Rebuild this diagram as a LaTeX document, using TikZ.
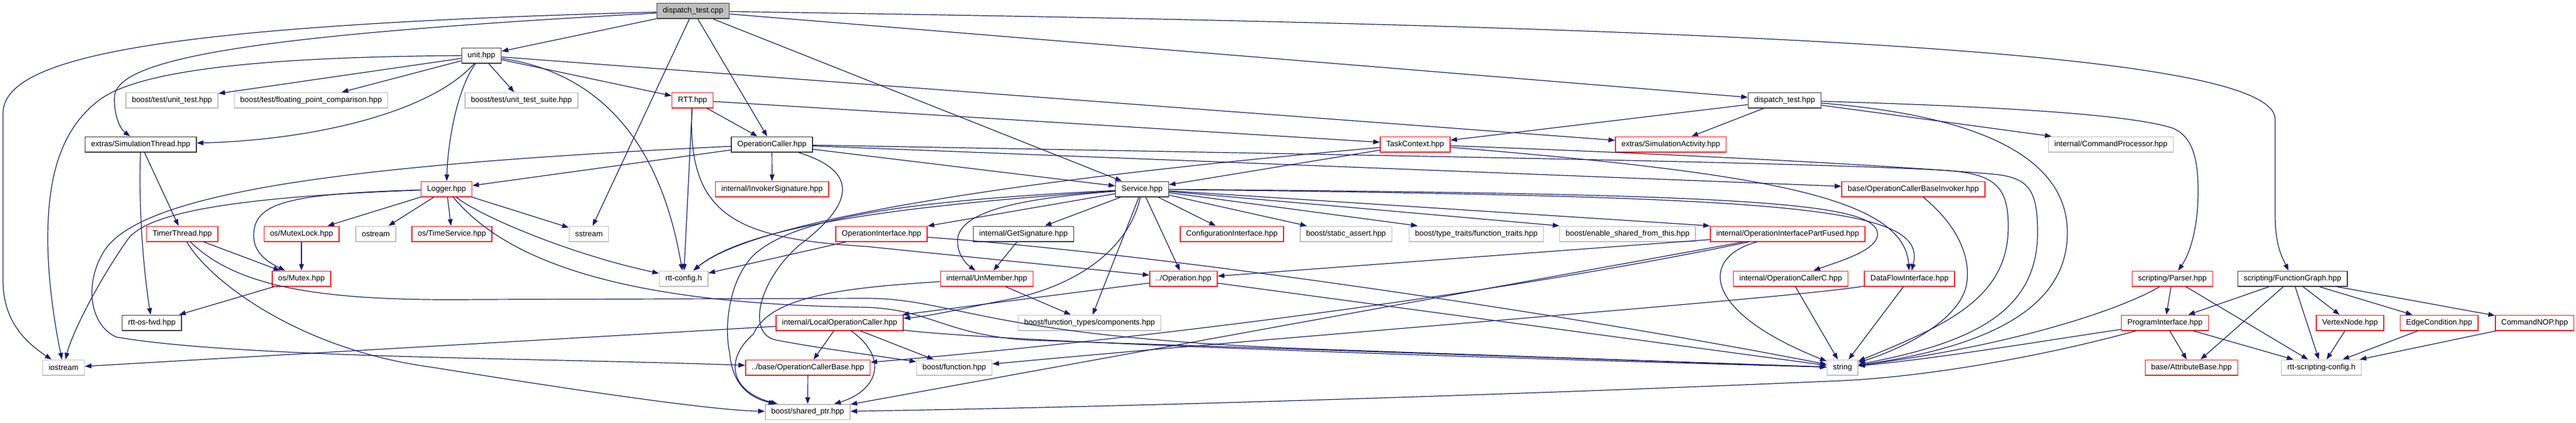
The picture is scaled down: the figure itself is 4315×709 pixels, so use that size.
\documentclass[tikz,border=0pt]{standalone}
\usepackage{fontspec}
\setmainfont{Liberation Sans}
\usepackage{tikz}
\usetikzlibrary{arrows.meta}
\definecolor{edgeblue}{HTML}{191970}
\definecolor{boxred}{HTML}{FF1A1A}
\definecolor{boxgray}{HTML}{BFBFBF}
\definecolor{boxdark}{HTML}{404040}
\tikzset{every edge/.style={draw}}
\tikzset{
  inc/.style={draw, rectangle, line width=1.5pt, inner xsep=10pt, inner ysep=0pt,
    minimum height=25.5pt, font=\fontsize{13pt}{15pt}\selectfont},
  doc/.style={inc, draw=boxdark},
  trunc/.style={inc, draw=boxred},
  ext/.style={inc, draw=boxgray},
  root/.style={doc, fill=boxgray},
  dep/.style={draw=edgeblue, line width=1.2pt, -{Triangle[length=11pt,width=8pt]}}
}

\begin{document}
\begin{tikzpicture}[x=1pt, y=-1pt]   % pixel grid, y downwards
    \path[use as bounding box] (0,0) rectangle (4315,709);

    % rows 0..4
    \node[root]  at (1161, 18.5)   (dtcpp)     {dispatch\_test.cpp};
    \node[doc]   at (806.5, 93)    (unit)      {unit.hpp};
    \node[ext]   at (288, 168)     (unittest)  {boost/test/unit\_test.hpp};
    \node[ext]   at (521, 168)     (fpc)       {boost/test/floating\_point\_comparison.hpp};
    \node[ext]   at (873.3, 168)   (suite)     {boost/test/unit\_test\_suite.hpp};
    \node[trunc] at (1160, 168)    (rtt)       {RTT.hpp};
    \node[doc]   at (2989.3, 168)  (dthpp)     {dispatch\_test.hpp};
    \node[doc]   at (235.8, 242)   (simthread) {extras/SimulationThread.hpp};
    \node[doc]   at (1293, 242)    (opcaller)  {OperationCaller.hpp};
    \node[trunc] at (2370.5, 242)  (taskctx)   {TaskContext.hpp};
    \node[trunc] at (2798.7, 242)  (simact)    {extras/SimulationActivity.hpp};
    \node[ext]   at (3536, 242)    (cmdproc)   {internal/CommandProcessor.hpp};
    \node[trunc] at (748, 317)     (logger)    {Logger.hpp};
    \node[trunc] at (1293.3, 317)  (invsig)    {internal/InvokerSignature.hpp};
    \node[doc]   at (1913, 317)    (service)   {Service.hpp};
    \node[trunc] at (3204.9, 317)  (invoker)   {base/OperationCallerBaseInvoker.hpp};

    % row 5
    \node[trunc] at (305.3, 392)   (timer)     {TimerThread.hpp};
    \node[trunc] at (505, 392)     (mutexlock) {os/MutexLock.hpp};
    \node[ext]   at (629.5, 392)   (ostream)   {ostream};
    \node[trunc] at (757, 392)     (timesvc)   {os/TimeService.hpp};
    \node[ext]   at (986.5, 392)   (sstream)   {sstream};
    \node[trunc] at (1476.7, 392)  (opiface)   {OperationInterface.hpp};
    \node[doc]   at (1714.5, 392)  (getsig)    {internal/GetSignature.hpp};
    \node[trunc] at (2063.5, 392)  (confiface) {ConfigurationInterface.hpp};
    \node[ext]   at (2254.6, 392)  (static)    {boost/static\_assert.hpp};
    \node[ext]   at (2473, 392)    (ftraits)   {boost/type\_traits/function\_traits.hpp};
    \node[ext]   at (2726.4, 392)  (esft)      {boost/enable\_shared\_from\_this.hpp};
    \node[trunc] at (2994.5, 392)  (partfused) {internal/OperationInterfacePartFused.hpp};

    % row 6
    \node[trunc] at (505, 467)     (mutex)     {os/Mutex.hpp};
    \node[ext]   at (1145.2, 467)  (rttconfig) {rtt-config.h};
    \node[trunc] at (1653, 467)    (unmember)  {internal/UnMember.hpp};
    \node[trunc] at (1982.5, 467)  (operation) {../Operation.hpp};
    \node[trunc] at (2999.6, 467)  (opcallerc) {internal/OperationCallerC.hpp};
    \node[trunc] at (3198.6, 467)  (dataflow)  {DataFlowInterface.hpp};
    \node[trunc] at (3638.9, 467)  (parser)    {scripting/Parser.hpp};
    \node[doc]   at (3840.1, 467)  (fgraph)    {scripting/FunctionGraph.hpp};

    % row 7
    \node[doc]   at (254.3, 541)   (osfwd)     {rtt-os-fwd.hpp};
    \node[trunc] at (1406.4, 541)  (localoc)   {internal/LocalOperationCaller.hpp};
    \node[ext]   at (1825, 541)    (components){boost/function\_types/components.hpp};
    \node[trunc] at (3626.5, 541)  (progiface) {ProgramInterface.hpp};
    \node[trunc] at (3936.5, 541)  (vertex)    {VertexNode.hpp};
    \node[trunc] at (4085.7, 541)  (edgecond)  {EdgeCondition.hpp};
    \node[trunc] at (4245.7, 541)  (cmdnop)    {CommandNOP.hpp};

    % rows 8, 9
    \node[ext]   at (106.5, 616)   (iostream)  {iostream};
    \node[trunc] at (1353.2, 616)  (ocbase)    {../base/OperationCallerBase.hpp};
    \node[ext]   at (1598.5, 616)  (function)  {boost/function.hpp};
    \node[ext]   at (3086.3, 616)  (string)    {string};
    \node[trunc] at (3670.8, 616)  (attrbase)  {base/AttributeBase.hpp};
    \node[ext]   at (3888.6, 616)  (scriptcfg) {rtt-scripting-config.h};
    \node[ext]   at (1352.9, 690.5)(sharedptr) {boost/shared\_ptr.hpp};

    % dispatch_test.cpp
    \draw[dep] (dtcpp) .. controls (300,42) and (5,90) .. (5,190) -- (5,470) .. controls (5,540) and (45,575) .. (iostream);
    \draw[dep] (dtcpp) .. controls (500,55) and (200,90) .. (192,160) .. controls (190,190) and (200,215) .. (simthread);
    \draw (dtcpp) edge[dep] (unit);
    \draw (dtcpp) edge[dep] (sstream);
    \draw (dtcpp) edge[dep] (opcaller);
    \draw (dtcpp) edge[dep] (service);
    \draw (dtcpp) edge[dep] (dthpp);
    \draw[dep] (dtcpp) .. controls (3000,45) and (3811,90) .. (3811,200) -- (3811,360) .. controls (3811,410) and (3822,430) .. (fgraph);

    % unit.hpp
    \draw[dep] (unit) .. controls (500,95) and (250,110) .. (170,165) .. controls (100,215) and (80,300) .. (80,400) .. controls (80,480) and (95,560) .. (iostream);
    \draw (unit) edge[dep] (unittest);
    \draw (unit) edge[dep] (fpc);
    \draw (unit) edge[dep] (suite);
    \draw (unit) edge[dep] (rtt);
    \draw[dep] (unit) .. controls (720,190) and (520,235) .. (simthread);
    \draw (unit) edge[dep] (simact);
    \draw[dep] (unit) .. controls (765,150) and (750,240) .. (logger);
    \draw[dep] (unit) .. controls (1060,130) and (1120,320) .. (rttconfig);

    % RTT.hpp
    \draw (rtt) edge[dep] (opcaller);
    \draw (rtt) edge[dep] (taskctx);
    \draw (rtt) edge[dep] (rttconfig);
    \draw[dep] (rtt) .. controls (1150,360) and (1230,400) .. (1450,413) -- (operation);

    % dispatch_test.hpp
    \draw (dthpp) edge[dep] (taskctx);
    \draw (dthpp) edge[dep] (simact);
    \draw (dthpp) edge[dep] (cmdproc);
    \draw[dep] (dthpp) .. controls (3400,180) and (3580,195) .. (3640,215) .. controls (3670,228) and (3682,260) .. (3682,320) .. controls (3682,390) and (3665,430) .. (parser);
    \draw[dep] (dthpp) .. controls (3330,195) and (3463,270) .. (3463,390) .. controls (3463,530) and (3300,585) .. (string);

    % OperationCaller.hpp
    \draw (opcaller) edge[dep] (logger);
    \draw (opcaller) edge[dep] (invsig);
    \draw (opcaller) edge[dep] (service);
    \draw (opcaller) edge[dep] (invoker);
    \draw[dep] (opcaller) .. controls (2400,262) and (3000,272) .. (3250,285) .. controls (3340,290) and (3364,310) .. (3364,380) .. controls (3364,500) and (3260,545) .. (string);
    \draw[dep] (opcaller) .. controls (600,275) and (240,320) .. (175,420) .. controls (140,475) and (150,545) .. (195,565) .. controls (400,600) and (900,600) .. (ocbase);
    \draw[dep] (opcaller) .. controls (1450,290) and (1420,350) .. (1340,410) .. controls (1270,470) and (1250,560) .. (1300,570) .. controls (1380,585) and (1460,595) .. (function);

    % TaskContext.hpp
    \draw (taskctx) edge[dep] (service);
    \draw[dep] (taskctx) .. controls (1600,310) and (1250,380) .. (rttconfig);
    \draw[dep] (taskctx) .. controls (2900,262) and (3200,280) .. (3340,292) .. controls (3400,298) and (3413,320) .. (3413,390) .. controls (3413,525) and (3300,575) .. (string);
    \draw[dep] (taskctx) .. controls (2950,290) and (3190,330) .. (dataflow);

    % Service.hpp
    \draw (service) edge[dep] (opiface);
    \draw (service) edge[dep] (getsig);
    \draw (service) edge[dep] (confiface);
    \draw (service) edge[dep] (components);
    \draw (service) edge[dep] (operation);
    \draw (service) edge[dep] ([xshift=12pt]static.north west);
    \draw (service) edge[dep] ([xshift=15pt]ftraits.north west);
    \draw (service) edge[dep] (esft.north west);
    \draw (service) edge[dep] (partfused.north west);
    \draw[dep] (service) .. controls (1750,330) and (1620,345) .. (1605,395) .. controls (1600,420) and (1615,440) .. (unmember);
    \draw[dep] (service) .. controls (1895,400) and (1830,470) .. (1700,500) .. controls (1620,515) and (1560,530) .. (localoc);
    \draw[dep] (service) .. controls (2950,325) and (3150,340) .. (3145,395) .. controls (3140,420) and (3090,435) .. (opcallerc);
    \draw[dep] (service) .. controls (3000,330) and (3230,345) .. (dataflow);
    \draw[dep] (service) .. controls (1500,345) and (1250,380) .. (rttconfig);
    \draw[dep] (service) .. controls (1550,335) and (1330,360) .. (1260,430) .. controls (1215,480) and (1215,560) .. (1222,590) .. controls (1226,640) and (1250,665) .. (sharedptr);

    % Logger.hpp, TimerThread.hpp
    \draw[dep] (logger) .. controls (400,330) and (250,355) .. (215,400) .. controls (165,470) and (120,560) .. (iostream);
    \draw[dep] (logger) .. controls (480,325) and (425,340) .. (425,395) .. controls (425,425) and (450,440) .. (mutex);
    \draw (logger) edge[dep] (mutexlock);
    \draw (logger) edge[dep] (ostream);
    \draw (logger) edge[dep] (timesvc);
    \draw (logger) edge[dep] (sstream);
    \draw[dep] (logger) .. controls (800,360) and (950,425) .. (rttconfig);
    \draw[dep] (logger) .. controls (850,440) and (1050,510) .. (1450,515) .. controls (1560,519) and (1580,560) .. (1720,570) -- (string);
    \draw (simthread) edge[dep] (timer);
    \draw[dep] (simthread) .. controls (232,350) and (240,450) .. (osfwd);
    \draw (timer) edge[dep] (mutex);
    \draw[dep] (timer) .. controls (350,470) and (500,585) .. (720,615) .. controls (1000,660) and (1200,688) .. (sharedptr);
    \draw[dep] (timer) .. controls (400,485) and (550,505) .. (800,502) -- (1450,500) .. controls (1600,500) and (1650,565) .. (2200,585) -- (string);
    \draw (mutexlock) edge[dep] (mutex);
    \draw (mutex) edge[dep] (osfwd);

    % operation headers
    \draw (opiface) edge[dep] (rttconfig);
    \draw[dep] (opiface) .. controls (2000,430) and (2700,540) .. (string);
    \draw (getsig) edge[dep] (unmember);
    \draw (unmember) edge[dep] (components);
    \draw[dep] (unmember) .. controls (1420,482) and (1290,495) .. (1262,560) .. controls (1215,600) and (1220,655) .. (sharedptr);
    \draw (operation) edge[dep] (localoc);
    \draw (operation) edge[dep] (string);
    \draw (partfused) edge[dep] (operation);
    \draw[dep] (partfused) .. controls (2500,495) and (1900,570) .. (ocbase);
    \draw (partfused) edge[dep] (sharedptr);
    \draw[dep] (partfused) .. controls (2850,430) and (2845,520) .. (string);
    \draw (opcallerc) edge[dep] (string);
    \draw (dataflow) edge[dep] (string);
    \draw[dep] (dataflow) .. controls (3000,500) and (2200,560) .. (function);
    \draw[dep] (invoker) .. controls (3270,370) and (3300,420) .. (3295,470) .. controls (3290,530) and (3200,580) .. (string);
    \draw (localoc) edge[dep] (iostream);
    \draw (localoc) edge[dep] (ocbase);
    \draw (localoc) edge[dep] (function);
    \draw[dep] (localoc) .. controls (1490,600) and (1470,655) .. (sharedptr);
    \draw[dep] (localoc) .. controls (1700,575) and (2500,600) .. (string);
    \draw (ocbase) edge[dep] (sharedptr);

    % scripting
    \draw (parser) edge[dep] (progiface);
    \draw (parser) edge[dep] (scriptcfg);
    \draw[dep] (parser) .. controls (3570,510) and (3400,575) .. (string);
    \draw (progiface) edge[dep] (attrbase);
    \draw (progiface) edge[dep] (scriptcfg);
    \draw[dep] (progiface) .. controls (3400,575) and (3250,600) .. (string);
    \draw[dep] (progiface) .. controls (3450,590) and (3250,630) .. (3086,638) .. controls (2700,655) and (2000,680) .. (sharedptr);
    \draw (fgraph) edge[dep] (progiface);
    \draw (fgraph) edge[dep] (attrbase);
    \draw (fgraph) edge[dep] (scriptcfg);
    \draw (fgraph) edge[dep] (vertex);
    \draw (fgraph) edge[dep] (edgecond);
    \draw (fgraph) edge[dep] (cmdnop);
    \draw (vertex) edge[dep] (scriptcfg);
    \draw (edgecond) edge[dep] (scriptcfg);
    \draw (cmdnop) edge[dep] (scriptcfg);
\end{tikzpicture}
\end{document}
